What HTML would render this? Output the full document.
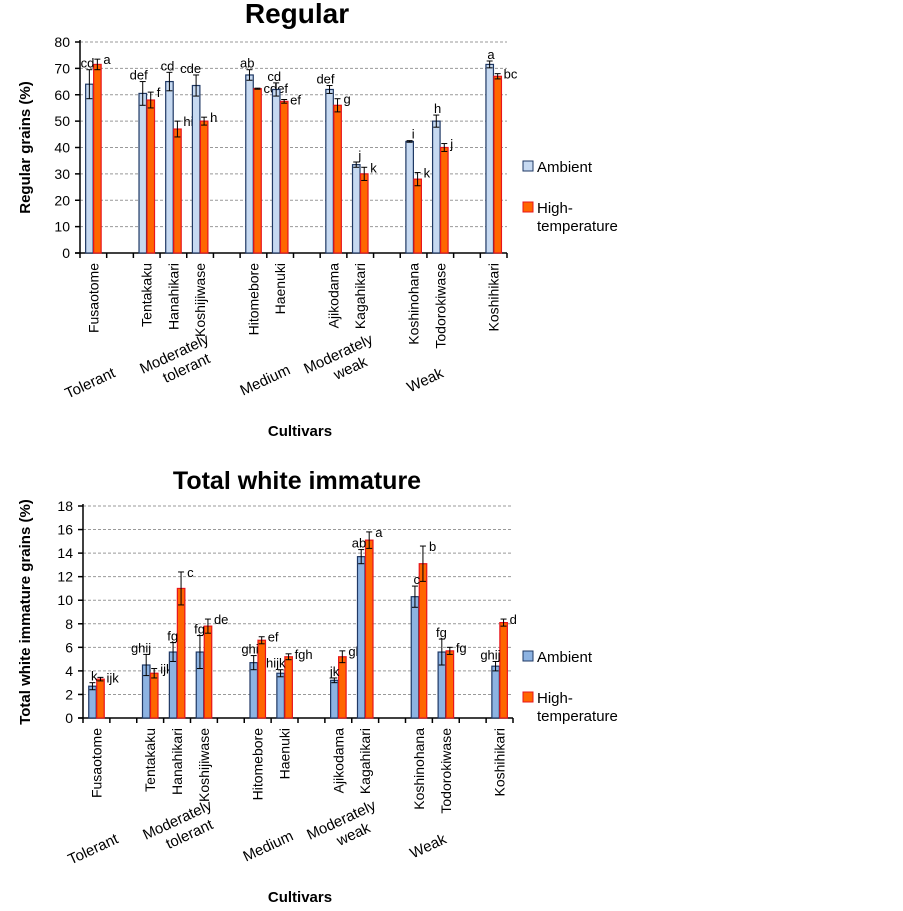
<!DOCTYPE html>
<html><head><meta charset="utf-8"><style>
html,body{margin:0;padding:0;background:#fff;width:903px;height:911px;overflow:hidden}
svg{display:block;font-family:"Liberation Sans",Arial,sans-serif}
</style></head><body>
<svg id="s" width="903" height="911" xmlns="http://www.w3.org/2000/svg"></svg>
<script>
(function(){
const names=["Fusaotome","Tentakaku","Hanahikari","Koshijiwase","Hitomebore","Haenuki","Ajikodama","Kagahikari","Koshinohana","Todorokiwase","Koshihikari"];
const slots=[0,2,3,4,6,7,9,10,12,13,15];
const dTop=[[64,5.5,"cd",71.5,2,"a"],[60.5,4.5,"def",58,3,"f"],[65,3.5,"cd",47,3,"hi"],[63.5,4,"cde",50,1.5,"h"],[67.5,2,"ab",62.3,0.2,"cdef"],[62,2.5,"cd",57.5,0.7,"ef"],[62,1.5,"def",56,2.5,"g"],[33.5,1,"j",30,2.5,"k"],[42.3,0.3,"i",28,2.5,"k"],[50,2.3,"h",40,1.5,"j"],[71.5,1.3,"a",67,1,"bc"]];
const dBot=[[2.7,0.3,"k",3.3,0.15,"ijk"],[4.5,0.9,"ghij",3.8,0.4,"ijk"],[5.6,0.8,"fg",11,1.4,"c"],[5.6,1.4,"fg",7.8,0.6,"de"],[4.7,0.6,"ghi",6.6,0.3,"ef"],[3.8,0.3,"hijk",5.2,0.25,"fgh"],[3.2,0.2,"jk",5.2,0.5,"gh"],[13.7,0.6,"ab",15.1,0.7,"a"],[10.3,0.9,"c",13.1,1.5,"b"],[5.6,1.1,"fg",5.7,0.3,"fg"],[4.4,0.4,"ghij",8.1,0.3,"d"]];
let h="";
function chart(o){
 const x0=o.x0,y0=o.y0,y1=o.y1,x1=o.x1,max=o.max,step=o.step,data=o.data,dy=o.dy,amb=o.amb;
 const sw=(x1-x0)/16, k=(y0-y1)/max;
 const Y=v=>y0-v*k;
 h+=`<text x="297" y="${dy+23}" font-size="${o.ts}" font-weight="bold" text-anchor="middle">${o.title}</text>`;
 for(let v=step;v<=max;v+=step) h+=`<line x1="${x0}" x2="${x1}" y1="${Y(v)}" y2="${Y(v)}" stroke="#999" stroke-dasharray="3,2" stroke-width="1"/>`;
 for(let v=0;v<=max;v+=step){h+=`<line x1="${x0-5}" x2="${x0}" y1="${Y(v)}" y2="${Y(v)}" stroke="#000" stroke-width="1.5"/><text x="${x0-10}" y="${Y(v)+5}" font-size="14" text-anchor="end">${v}</text>`;}
 h+=`<line x1="${x0}" x2="${x0}" y1="${y1-2}" y2="${y0}" stroke="#000" stroke-width="1.5"/><line x1="${x0-5}" x2="${x1}" y1="${y0}" y2="${y0}" stroke="#000" stroke-width="1.5"/>`;
 for(let i=0;i<=16;i++) h+=`<line x1="${x0+i*sw}" x2="${x0+i*sw}" y1="${y0}" y2="${y0+5}" stroke="#000" stroke-width="1.5"/>`;
 data.forEach((d,i)=>{
  const c=x0+(slots[i]+0.5)*sw;
  const bars=[[c-8,d[0],d[1],amb,"#1f3864"],[c,d[3],d[4],"#ff6600","#e8141b"]];
  bars.forEach(b=>{h+=`<rect x="${b[0]+0.3}" y="${Y(b[1])}" width="7.5" height="${b[1]*k}" fill="${b[3]}" stroke="${b[4]}" stroke-width="1.2"/>`;
   const ex=b[0]+4;h+=`<line x1="${ex}" x2="${ex}" y1="${Y(b[1]+b[2])}" y2="${Y(b[1]-b[2])}" stroke="#000"/><line x1="${ex-3}" x2="${ex+3}" y1="${Y(b[1]+b[2])}" y2="${Y(b[1]+b[2])}" stroke="#000"/><line x1="${ex-3}" x2="${ex+3}" y1="${Y(b[1]-b[2])}" y2="${Y(b[1]-b[2])}" stroke="#000"/>`;});
  h+=`<text x="${c+1}" y="${Y(d[0]+d[1])-2}" font-size="13" text-anchor="end">${d[2]}</text>`;
  h+=`<text x="${c+10}" y="${Y(d[3]+d[4])+5}" font-size="13">${d[5]}</text>`;
  h+=`<text transform="translate(${c+5},${y0+10}) rotate(-90)" font-size="14" text-anchor="end">${names[i]}</text>`;
 });
 h+=`<text transform="translate(30,${(y0+y1)/2}) rotate(-90)" font-size="15" font-weight="bold" text-anchor="middle">${o.ylab}</text>`;
 const g=[["Tolerant",90,383],["Moderately|tolerant",178,362],["Medium",265,380],["Moderately|weak",342,362],["Weak",425,380]];
 g.forEach(t=>{const p=t[0].split("|");let s=`<text transform="translate(${t[1]+(x0-80)},${t[2]+dy}) rotate(-25)" font-size="15" text-anchor="middle">`;
  if(p.length==1)s+=`<tspan x="0" y="5">${p[0]}</tspan>`;else s+=`<tspan x="0" y="-4">${p[0]}</tspan><tspan x="5" y="14">${p[1]}</tspan>`;h+=s+"</text>";});
 h+=`<text x="300" y="${436+dy}" font-size="15" font-weight="bold" text-anchor="middle">Cultivars</text>`;
 const ly=o.ly;
 h+=`<rect x="523" y="${ly-11}" width="10" height="10" fill="${amb}" stroke="#1f3864"/><text x="537" y="${ly}" font-size="15">Ambient</text>`;
 h+=`<rect x="523" y="${ly+30}" width="10" height="10" fill="#ff6600" stroke="#e8141b"/><text x="537" y="${ly+41}" font-size="15">High-</text><text x="537" y="${ly+59}" font-size="15">temperature</text>`;
}
chart({x0:80,x1:507,y0:253,y1:42,max:80,step:10,data:dTop,dy:0,amb:"#c6d9f1",title:"Regular",ts:28,ylab:"Regular grains (%)",ly:172});
chart({x0:83,x1:513,y0:718,y1:506,max:18,step:2,data:dBot,dy:466,amb:"#8db3e2",title:"Total white immature",ts:25,ylab:"Total white immature grains (%)",ly:662});
document.getElementById("s").innerHTML=h;
})();
</script>
</body></html>
